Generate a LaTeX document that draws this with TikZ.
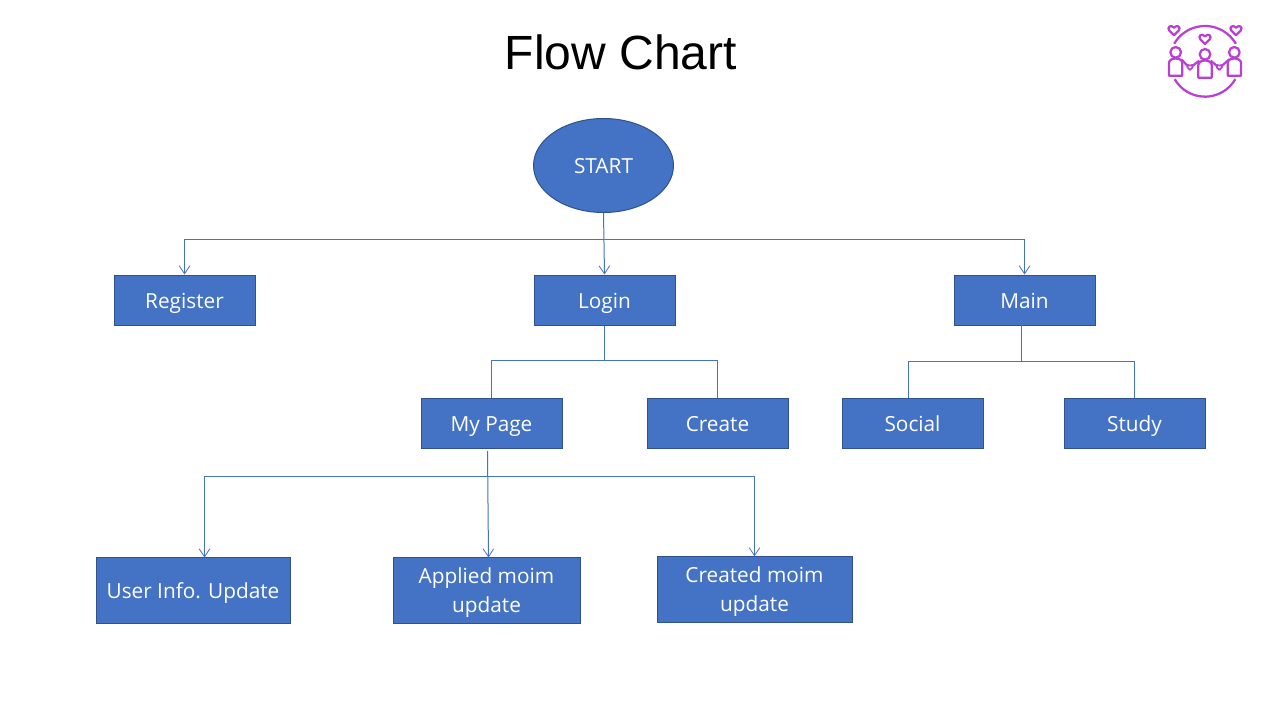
\documentclass[tikz,border=0pt]{standalone}
\usepackage{fontspec}
\setmainfont{Open Sans}
\newfontfamily\titlefont{Liberation Sans}
\usetikzlibrary{arrows.meta,calc,shapes.geometric}
\definecolor{boxfill}{HTML}{4472C4}
\definecolor{boxedge}{HTML}{2F528F}
\definecolor{iconcol}{HTML}{B840D2}
\newcommand\topstrut{\rule{0pt}{17.6pt}}
\tikzset{
  flowbox/.style={draw=boxedge,fill=boxfill,line width=0.75pt,text=white,inner sep=0pt,align=center,
    font=\fontsize{15.6}{22}\selectfont},
  oneline/.style={text height=16pt,text depth=4pt},
  smallbox/.style={flowbox,oneline,rectangle,minimum width=105.75pt,minimum height=37.5pt},
  bigbox/.style={flowbox,rectangle,minimum height=49pt},
  link/.style={draw=boxfill,line width=0.75pt},
  arrowlink/.style={link,-{Straight Barb[length=6pt,width=8pt,line width=0.6pt]}},
  iconline/.style={draw=iconcol,line width=1.7pt,line join=round},
  bighrt/.pic={\draw[iconline] (0,14) -- (-14,0) .. controls (-22,-10) and (-10,-20) .. (0,-9) .. controls (10,-20) and (22,-10) .. (14,0) -- cycle;},
  minih/.pic={\draw[iconline,line width=1.3pt] (0,8) -- (-8,0) .. controls (-10,-8) and (-3,-9) .. (0,-5) .. controls (3,-9) and (10,-8) .. (8,0) -- cycle;},
  persn/.pic={\draw[iconline] (0,-26) circle[radius=16];
    \draw[iconline] (-20,44) -- (-20,6) .. controls (-20,-12) and (20,-12) .. (20,6) -- (20,44) -- cycle;}
}
\begin{document}
\begin{tikzpicture}[x=0.75pt,y=-0.75pt]
\useasboundingbox (0,0) rectangle (1280,720);
\node[text=black,font=\titlefont\fontsize{36}{40}\selectfont] (title) at (621,52) {Flow Chart};

\node[flowbox,oneline,ellipse,minimum width=105pt,minimum height=70.5pt] (start) at (603.5,165.5) {START};
\node[smallbox] (register) at (184.5,300) {Register};
\node[smallbox] (login) at (604.5,300) {Login};
\node[smallbox] (main) at (1024.5,300) {Main};
\node[smallbox] (mypage) at (491.5,423.5) {My Page};
\node[smallbox] (create) at (717.5,423.5) {Create};
\node[smallbox] (social) at (912.5,423.5) {Social};
\node[smallbox] (study) at (1134.5,423.5) {Study};
\node[bigbox,oneline,minimum width=145.5pt] (userinfo) at (193,590.5) {User Info. Update};
\node[bigbox,minimum width=140.25pt] (applied) at (486.5,590.5) {\topstrut\strut Applied moim\\\strut update};
\node[bigbox,minimum width=146.25pt] (created) at (754.5,589.5) {\topstrut\strut Created moim\\\strut update};

% START fan-out
\coordinate (j1) at ($(start.south)!0.43!(login.north)$);
\draw[arrowlink] (start.south) -- (login.north);
\draw[arrowlink] (j1) -| (register.north);
\draw[arrowlink] (j1) -| (main.north);

% Login fan-out
\coordinate (j2) at (604.5,360.5);
\draw[link] (login.south) -- (j2);
\draw[link] (mypage.north) |- (j2);
\draw[link] (create.north) |- (j2);

% Main fan-out
\coordinate (m0) at (1021,325);
\coordinate (j3) at (1021,361);
\coordinate (t1) at (908.5,398);
\draw[link] (m0) -- (j3);
\draw[link] (t1) |- (j3);
\draw[link] (study.north) |- (j3);

% My Page fan-out
\coordinate (p0) at (487.5,451);
\coordinate (p1) at (488.5,557.5);
\coordinate (j4) at (487.7,476.5);
\coordinate (u1) at (204.5,557.5);
\draw[arrowlink] (p0) -- (p1);
\draw[arrowlink] (j4) -| (u1);
\draw[arrowlink] (j4) -| (created.north);

% Icon
\begin{scope}[shift={(1150,10)},x=0.25pt,y=-0.25pt]
  \draw[iconline] (165,155) ++(150:105) arc[start angle=150,end angle=30,radius=105];
  \draw[iconline] (165,155) ++(210:107) arc[start angle=210,end angle=330,radius=107];
  \pic at (72,62) {bighrt};
  \pic at (165,88) {bighrt};
  \pic at (258,62) {bighrt};
  \pic at (77,153) {persn};
  \pic at (165,159) {persn};
  \pic at (253,153) {persn};
  \pic at (120,172) {minih};
  \pic at (208,172) {minih};
  \draw[iconline] (94,148) -- (113,168);
  \draw[iconline] (127,168) -- (148,152);
  \draw[iconline] (182,152) -- (201,168);
  \draw[iconline] (215,168) -- (238,148);
\end{scope}
\end{tikzpicture}
\end{document}
